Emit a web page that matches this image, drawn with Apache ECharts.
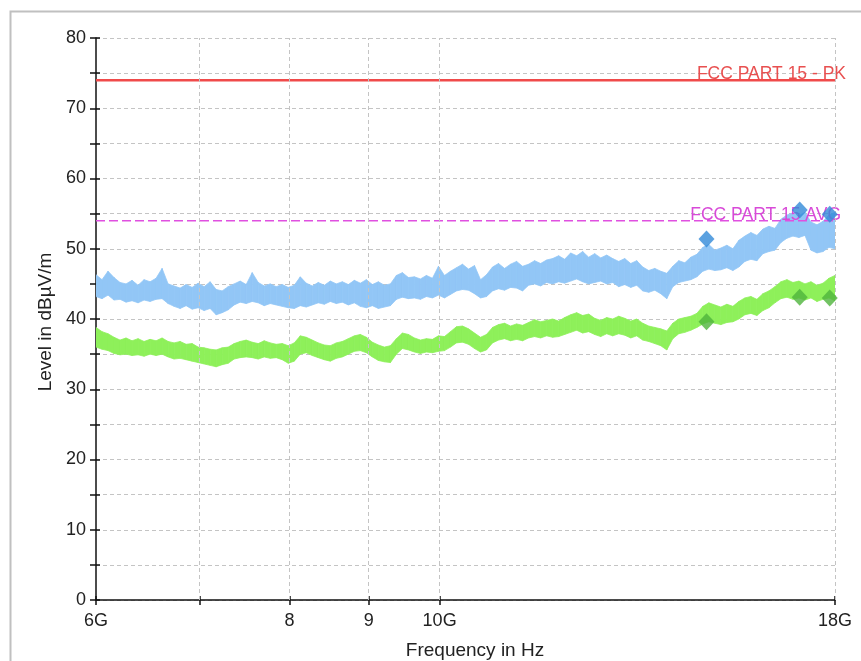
<!DOCTYPE html>
<html>
<head>
<meta charset="utf-8">
<title>Emission scan 6–18 GHz</title>
<script src="https://cdn.jsdelivr.net/npm/echarts@6/dist/echarts.min.js"></script>
<style>
  html, body { margin: 0; padding: 0; background: #fff; }
  #chart { width: 861px; height: 661px; }
</style>
</head>
<body>
<div id="chart"></div>
<script>
// Frequency axis (GHz, log scale)
const freqMin = 6;
const freqMax = 18;
const tickValues = [6, 7, 8, 9, 10, 18];
const tickLabels = ['6G', '', '8', '9', '10G', '18G'];
const gridFreqs = [7, 8, 9, 10, 18];

// Level axis (dBµV/m)
const levelMin = 0;
const levelMax = 80;
const levelStep = 5;

// Limit lines
const limitNames = ['FCC PART 15 - PK', 'FCC PART 15 AVG'];
const limitLevels = [74, 54];

// Final measurement points
const markerFreqs = [14.87, 17.08, 17.86];
const markerPeak = [51.4, 55.5, 54.9];
const markerAvg = [39.6, 43.1, 43.0];

// Sweep traces: min/max of each display bin, 124 bins log-spaced 6..18 GHz
const peakHigh = [
  46.3, 45.6, 46.8, 45.9, 45.2, 45.0, 45.5, 44.8, 45.6, 45.3,
  45.8, 47.2, 45.0, 44.7, 44.4, 44.9, 44.5, 45.1, 44.6, 45.3,
  44.2, 44.0, 44.6, 45.0, 45.4, 44.9, 46.6, 45.2, 44.7, 45.0,
  44.6, 44.9, 44.5, 44.8, 46.0, 45.1, 44.7, 45.2, 44.8, 45.4,
  45.0, 45.3, 44.9, 45.5, 45.1, 45.6, 44.9, 45.3, 44.8, 45.0,
  46.2, 46.6, 45.9, 46.0, 45.7, 46.2, 45.8, 47.5, 46.2, 46.8,
  47.3, 47.8, 47.1, 47.6, 45.6, 46.3, 47.4, 47.9, 47.2, 47.8,
  48.2, 47.5, 47.8, 48.3, 47.9, 48.4, 48.6, 49.0, 48.5, 49.4,
  49.0, 49.6, 48.8, 49.3, 48.7, 49.1, 48.6, 48.2, 48.6, 47.9,
  48.3, 47.4, 46.9, 47.2, 46.8, 46.5, 47.5, 48.3, 48.0, 48.8,
  49.2, 50.2, 50.6, 49.8, 50.1, 50.5, 50.0, 51.2, 51.8, 52.3,
  51.9, 52.8, 53.2, 52.9, 54.2, 54.8, 55.1, 54.7, 55.2, 53.8,
  53.4, 53.9, 54.8, 55.2
];
const peakLow = [
  43.2, 42.9, 43.4, 42.7, 42.8, 42.4, 42.6, 42.3, 42.7, 42.5,
  42.8, 42.9, 42.2, 41.8, 41.5, 41.9, 41.4, 41.6, 41.2, 41.5,
  40.6, 40.9, 41.3, 42.0, 42.4, 42.2, 42.5, 42.3, 41.9, 42.2,
  42.0, 41.8, 41.6, 41.5, 41.9, 41.7, 42.0, 42.3, 42.1, 42.5,
  42.2, 42.4, 42.0, 42.3, 41.8, 41.6, 41.9, 41.5, 41.7, 41.9,
  42.8, 43.1, 42.9, 43.0, 42.8, 43.2, 43.0, 43.4, 43.0, 43.5,
  44.0, 44.2, 44.1, 43.6, 43.0, 43.2, 44.0, 44.3, 44.1, 44.5,
  44.4, 44.0, 44.8, 45.0, 44.7, 45.2, 45.0, 45.3, 45.1, 45.4,
  45.7, 45.3, 45.0, 45.2, 45.4, 45.0, 45.2, 44.6, 44.9, 44.5,
  44.8, 44.0, 43.8, 44.1, 43.6, 42.9, 44.6, 45.2, 45.4, 45.6,
  46.0, 46.8, 47.1, 46.9, 47.0, 47.3, 46.9, 47.4, 48.2, 48.5,
  48.3, 49.3, 49.6, 49.8, 50.9, 51.5, 51.8, 51.6, 51.9, 49.8,
  49.4, 49.6, 50.2, 50.0
];
const avgHigh = [
  38.8, 38.2, 37.9, 37.4, 37.0, 37.3, 36.9, 37.2, 36.8, 37.1,
  36.9, 37.3, 36.8, 36.6, 36.8, 36.4, 36.5, 36.0, 35.9, 35.7,
  35.6, 35.9, 36.0, 36.5, 36.8, 37.0, 36.7, 36.5, 36.9, 36.6,
  36.4, 36.5, 36.2, 36.6, 37.6, 37.4, 37.0, 36.6, 36.3, 36.2,
  36.6, 36.8, 37.2, 37.6, 37.8, 37.4, 36.7, 36.3, 36.0, 36.2,
  37.2, 38.0, 37.8, 37.3, 37.0, 37.2, 37.1, 37.6, 37.5, 38.2,
  38.9, 39.0, 38.6, 38.0, 37.4, 37.8, 38.8, 39.2, 39.4, 39.0,
  39.3, 39.1, 39.5, 39.9, 39.6, 39.8, 40.0, 39.7, 40.2, 40.6,
  40.9, 40.5, 40.7, 40.1, 39.8, 40.2, 40.0, 40.4, 40.1, 39.7,
  40.0, 39.4, 39.0, 38.8, 38.6, 38.3, 39.4, 40.0, 40.2, 40.4,
  40.8, 41.8, 42.3, 42.0, 41.7, 42.1, 41.8, 42.5, 43.0, 43.2,
  42.8, 43.6, 44.0, 44.6, 45.3, 45.6, 45.2, 45.4, 45.0, 45.3,
  44.8, 45.1, 45.8, 46.2
];
const avgLow = [
  36.0, 35.7, 35.5, 35.1, 34.9, 35.0, 34.8, 34.9, 34.7, 35.0,
  34.8, 35.0, 34.6, 34.3, 34.4, 34.2, 34.0, 33.8, 33.6, 33.4,
  33.2, 33.5, 33.7, 34.3, 34.5, 34.6, 34.5, 34.3, 34.6, 34.4,
  34.5, 34.2, 33.7, 34.0, 35.0, 35.2, 34.8, 34.5, 34.2, 34.0,
  34.4, 34.6, 35.0, 35.4, 35.5, 35.2, 34.6, 34.1, 33.9, 33.8,
  35.0, 35.8, 35.6, 35.3, 35.1, 35.3, 35.2, 35.4, 35.5, 36.0,
  36.6, 36.7, 36.4, 35.8, 35.3, 35.6, 36.6, 37.0, 37.2, 36.9,
  37.1, 36.9, 37.3, 37.5, 37.3, 37.6, 37.4, 37.5, 37.8, 38.1,
  38.4, 38.0, 38.2, 37.8, 37.5, 37.9, 37.6, 37.9, 37.7, 37.3,
  37.6, 37.0, 36.8, 36.5, 36.2, 35.6, 37.2, 37.9, 38.1, 38.4,
  38.8, 39.3, 39.6, 39.4, 39.2, 39.5, 39.6, 40.0, 40.6, 40.8,
  40.5, 41.2, 41.6, 42.3, 42.9, 43.1, 42.8, 43.0, 42.7, 43.0,
  42.5, 42.8, 43.0, 42.6
];

// Bin centre frequencies of the sweep (equal steps on the log axis)
const binCount = peakHigh.length;
const binFreqs = peakHigh.map((_, i) =>
  freqMin * Math.pow(freqMax / freqMin, i / (binCount - 1)));

// A trace is drawn as a filled band: each item is the quad joining the
// min/max of one bin to the min/max of the next bin.
function bandSeries(name, lo, hi, color) {
  return {
    name: name,
    type: 'custom',
    data: binFreqs.map((f, i) => [f, lo[i], hi[i]]),
    encode: { x: 0, y: [1, 2] },
    clip: true,
    silent: true,
    z: 3,
    renderItem: function (params, api) {
      const i = params.dataIndex;
      if (i >= binCount - 1) return null;
      const f0 = binFreqs[i], f1 = binFreqs[i + 1];
      const pts = [
        api.coord([f0, hi[i]]),
        api.coord([f1, hi[i + 1]]),
        api.coord([f1, lo[i + 1]]),
        api.coord([f0, lo[i]])
      ];
      return {
        type: 'polygon',
        shape: { points: pts },
        style: { fill: color, stroke: color, lineWidth: 0.8 }
      };
    }
  };
}

const fontFamily = '"Liberation Sans", Arial, sans-serif';
const gridColor = '#c4c4c4';
const axisInk = { color: '#111', width: 1.5 };

const tickLabelFormatter = v => {
  const k = tickValues.findIndex(t => Math.abs(t - v) < 1e-6);
  return k >= 0 ? tickLabels[k] : '';
};

const chart = echarts.init(document.getElementById('chart'), null, { renderer: 'canvas' });

chart.setOption({
  animation: false,
  backgroundColor: '#fff',
  textStyle: { fontFamily: fontFamily },
  grid: { left: 96, right: 26, top: 38, bottom: 61, containLabel: false },
  graphic: [
    { type: 'rect', left: 8, top: 9, shape: { width: 860, height: 660 },
      style: { fill: 'none', stroke: '#c0c0c0', lineWidth: 2 }, silent: true, z: -1 },
    { type: 'text', x: 475, y: 651,
      style: { text: 'Frequency in Hz', fontSize: 19, fontFamily: fontFamily, fill: '#222',
               align: 'center', verticalAlign: 'middle' } },
    { type: 'text', x: 46, y: 322, rotation: Math.PI / 2,
      style: { text: 'Level in dBµV/m', fontSize: 19, fontFamily: fontFamily, fill: '#222',
               align: 'center', verticalAlign: 'middle' } }
  ],
  xAxis: [
    {
      type: 'log',
      logBase: 10,
      min: freqMin,
      max: freqMax,
      axisLine: { show: true, onZero: false, lineStyle: axisInk },
      axisTick: { show: true, length: 5, customValues: tickValues, lineStyle: axisInk },
      axisLabel: {
        customValues: tickValues,
        formatter: tickLabelFormatter,
        color: '#222', fontSize: 18, margin: 12, showMinLabel: true, showMaxLabel: true
      },
      splitLine: { show: false }
    },
    {
      // inner half of the crossing tick marks
      type: 'log',
      logBase: 10,
      min: freqMin,
      max: freqMax,
      position: 'bottom',
      axisLine: { show: false, onZero: false },
      axisTick: { show: true, inside: true, length: 4, customValues: tickValues, lineStyle: axisInk },
      axisLabel: { show: false },
      splitLine: { show: false }
    }
  ],
  yAxis: [
    {
      type: 'value',
      min: levelMin,
      max: levelMax,
      interval: levelStep,
      axisLine: { show: true, lineStyle: axisInk },
      axisTick: { show: true, length: 6, lineStyle: axisInk },
      axisLabel: {
        formatter: v => (v % 10 === 0 ? String(v) : ''),
        color: '#222', fontSize: 18, margin: 10
      },
      splitLine: { show: true, lineStyle: { color: gridColor, type: [4, 3], width: 1 } }
    },
    {
      type: 'value',
      min: levelMin,
      max: levelMax,
      interval: levelStep,
      position: 'left',
      axisLine: { show: false, onZero: false },
      axisTick: { show: true, inside: true, length: 4, lineStyle: axisInk },
      axisLabel: { show: false },
      splitLine: { show: false }
    }
  ],
  series: [
    {
      name: 'grid-x',
      type: 'line',
      data: [],
      silent: true,
      markLine: {
        symbol: 'none',
        silent: true,
        label: { show: false },
        lineStyle: { color: gridColor, type: [4, 3], width: 1 },
        data: gridFreqs.map(f => ({ xAxis: f }))
      }
    },
    bandSeries('Peak', peakLow, peakHigh, '#92c6f6'),
    bandSeries('Average', avgLow, avgHigh, '#8ef05a'),
    {
      name: limitNames[0],
      type: 'line',
      data: [[freqMin, limitLevels[0]], [freqMax, limitLevels[0]]],
      symbol: 'none',
      lineStyle: { color: '#f04a4a', width: 2.5 },
      endLabel: {
        show: true, formatter: limitNames[0], color: '#e85050', fontSize: 17.5,
        align: 'right', verticalAlign: 'bottom', offset: [3, 3]
      },
      z: 4
    },
    {
      name: limitNames[1],
      type: 'line',
      data: [[freqMin, limitLevels[1]], [freqMax, limitLevels[1]]],
      symbol: 'none',
      lineStyle: { color: '#e050e0', width: 1.5, type: [9, 4] },
      endLabel: {
        show: true, formatter: limitNames[1], color: '#d84ad8', fontSize: 17.5,
        align: 'right', verticalAlign: 'bottom', offset: [-2, 4]
      },
      z: 4
    },
    {
      name: 'Peak final',
      type: 'scatter',
      data: markerFreqs.map((f, i) => [f, markerPeak[i]]),
      symbol: 'diamond',
      symbolSize: [16, 17],
      itemStyle: { color: '#3289d8' },
      z: 5
    },
    {
      name: 'Average final',
      type: 'scatter',
      data: markerFreqs.map((f, i) => [f, markerAvg[i]]),
      symbol: 'diamond',
      symbolSize: [16, 17],
      itemStyle: { color: '#4fb43c' },
      z: 5
    }
  ]
});
</script>
</body>
</html>
